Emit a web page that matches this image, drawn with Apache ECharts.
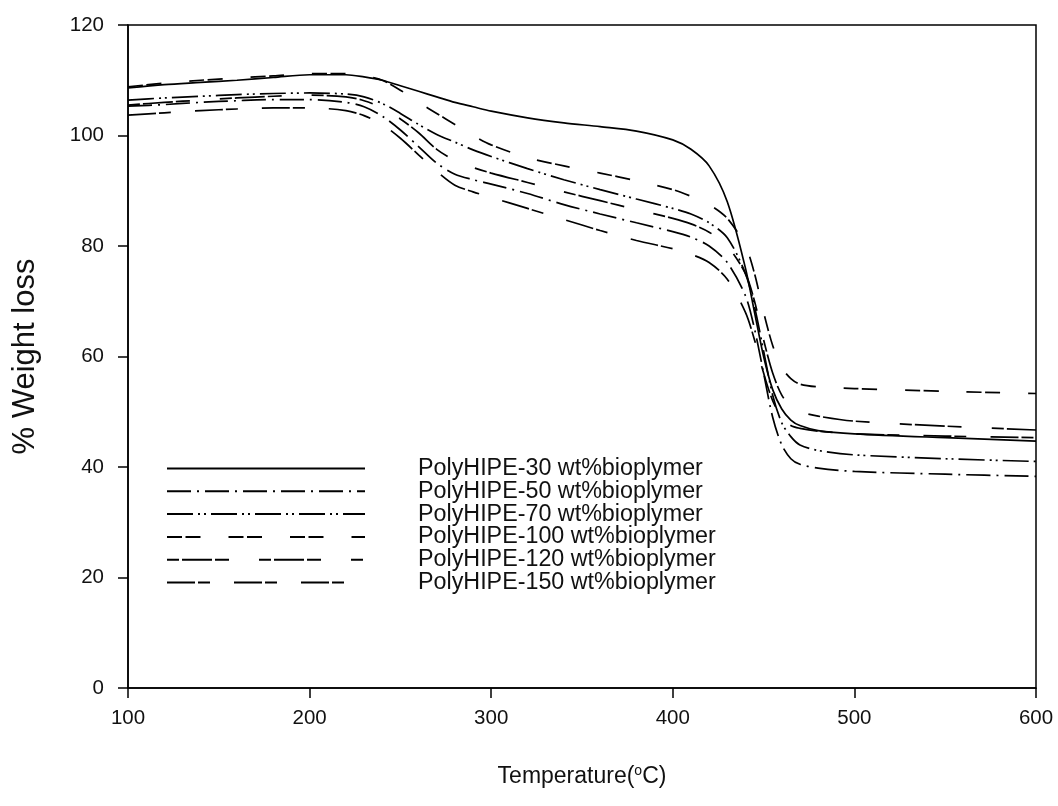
<!DOCTYPE html>
<html>
<head>
<meta charset="utf-8">
<script src="https://cdn.jsdelivr.net/npm/echarts@6/dist/echarts.min.js"></script>
<style>html,body{margin:0;padding:0;background:#fff}#c{width:1058px;height:806px}</style>
</head>
<body>
<div id="c"></div>
<script>
const temps = [100,120,140,160,180,200,220,230,240,250,260,270,280,290,300,320,340,360,380,400,410,420,430,440,445,450,455,460,465,470,480,500,550,600];
const seriesNames = ['PolyHIPE-30 wt%bioplymer','PolyHIPE-50 wt%bioplymer','PolyHIPE-70 wt%bioplymer','PolyHIPE-100 wt%bioplymer','PolyHIPE-120 wt%bioplymer','PolyHIPE-150 wt%bioplymer'];
const w30  = [108.6,109.2,109.6,110.0,110.5,111.0,111.0,110.6,110.0,109.0,108.0,107.0,106.0,105.2,104.4,103.2,102.3,101.6,100.8,99.2,97.5,94.5,88,76,68,60,54,50.5,48.5,47.5,46.6,46,45.3,44.7];
const w50  = [105.3,105.6,106,106.3,106.5,106.5,106,105.2,103.5,101,98,95,93,92,91.2,89.5,87.5,85.8,84.2,82.6,81.6,80,77,71,65,57,49,44,41.5,40.5,39.8,39.2,38.7,38.3];
const w70  = [106.4,106.8,107.1,107.4,107.6,107.7,107.5,107,105.8,104,102,100.2,98.8,97.4,96.2,94,92,90.2,88.5,86.8,85.8,84.2,81.5,75,69,61,53,48,45.5,44,43,42.2,41.5,41];
const w100 = [108.8,109.5,110,110.4,110.8,111.2,111.2,110.8,110,108.2,106,104,102,100,98.3,96,94.5,93.2,91.8,90.2,89,87.5,85,80,75,68,62,58,56,55,54.5,54.2,53.7,53.3];
const w120 = [105.5,106,106.4,106.8,107.1,107.3,107,106.3,105,103,100.5,97.5,95.5,94.2,93.2,91.5,89.8,88.2,86.6,85,84,82.5,80,75,70,63,57,53,51,50,49.2,48.3,47.4,46.7];
const w150 = [103.7,104.1,104.5,104.8,105,105,104.5,103.6,102,99.5,96.5,93.5,91,89.8,88.8,86.8,84.8,82.8,81,79.5,78.5,77,74,68,63,57,52,49,47.5,47,46.5,46,45.6,45.3];
const yTicks = [0,20,40,60,80,100,120];
const xTicks = [100,200,300,400,500,600];

const allW = [w30,w50,w70,w100,w120,w150];
const dashes = ['solid',[24,6,2,6],[26,5,2,4,2,5],[15,3.5,15,28],[12,3,30,3,14,30],[28,3,12,24]];
const FONT = 'Liberation Sans, Arial, sans-serif';

const chart = echarts.init(document.getElementById('c'), null, {renderer:'canvas'});
chart.setOption({
  animation:false,
  backgroundColor:'#fff',
  grid:{left:128,right:22,top:25,bottom:118,show:true,borderColor:'#000',borderWidth:1.5,backgroundColor:'transparent'},
  legend:{
    orient:'vertical', left:161, top:452, itemWidth:198, itemHeight:14, itemGap:-0.2,
    data:seriesNames,
    itemStyle:{color:'transparent',borderWidth:0,opacity:0},
    textStyle:{fontFamily:FONT,fontSize:23.3,lineHeight:22,color:'#111',padding:[0,0,0,48]},
    selectedMode:false
  },
  xAxis:{
    type:'value', min:xTicks[0], max:xTicks[xTicks.length-1], interval:100,
    name:'Temperature({s|o}C)', nameLocation:'middle', nameGap:76,
    nameTextStyle:{fontFamily:FONT,fontSize:23,color:'#111',rich:{s:{fontSize:14,verticalAlign:'top',padding:[0,0,12,0],fontFamily:FONT,color:'#111'}}},
    axisLine:{show:true,onZero:false,lineStyle:{color:'#000',width:1.5}},
    axisTick:{show:true,inside:false,length:10,lineStyle:{color:'#000',width:1.5}},
    axisLabel:{fontFamily:FONT,fontSize:20.5,color:'#111',margin:20},
    splitLine:{show:false}
  },
  yAxis:{
    type:'value', min:yTicks[0], max:yTicks[yTicks.length-1], interval:20,
    name:'% Weight loss', nameLocation:'middle', nameGap:87, nameRotate:90,
    nameTextStyle:{fontFamily:FONT,fontSize:31,color:'#111'},
    axisLine:{show:true,lineStyle:{color:'#000',width:1.5}},
    axisTick:{show:true,inside:false,length:10,lineStyle:{color:'#000',width:1.5}},
    axisLabel:{fontFamily:FONT,fontSize:20.5,color:'#111',margin:24},
    splitLine:{show:false}
  },
  series: seriesNames.map((n,i)=>({
    name:n, type:'line', showSymbol:false, symbol:'none', smooth:0.3,
    data: temps.map((t,k)=>[t, allW[i][k]]),
    lineStyle:{color:'#000',width:1.7,type:dashes[i]},
    itemStyle:{color:'#000'}
  }))
});
</script>
</body>
</html>
